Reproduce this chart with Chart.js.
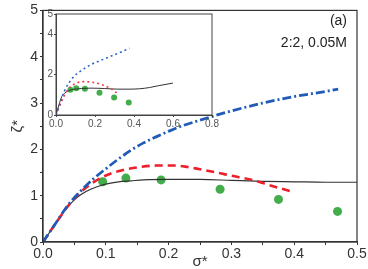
<!DOCTYPE html>
<html>
<head>
<meta charset="utf-8">
<script src="https://cdn.jsdelivr.net/npm/chart.js@4/dist/chart.umd.min.js"></script>
<style>
  html, body { margin: 0; padding: 0; background: #fff; }
  #wrap { position: relative; width: 368px; height: 269px; }
  #main { position: absolute; left: 0; top: 0; }
  #inset { position: absolute; left: 36px; top: 6px; }
</style>
</head>
<body>
<div id="wrap">
  <canvas id="main" width="368" height="269"></canvas>
  <canvas id="inset" width="190" height="124"></canvas>
</div>
<script>
// main panel: sigma* vs zeta*
const blackSigma = [0, 0.01, 0.02, 0.03, 0.04, 0.05, 0.06, 0.07, 0.08, 0.09, 0.10, 0.12, 0.14, 0.16, 0.20, 0.25, 0.30, 0.35, 0.40, 0.45, 0.50];
const blackZeta  = [0, 0.2, 0.4, 0.6, 0.77, 0.91, 1.02, 1.10, 1.16, 1.21, 1.25, 1.30, 1.32, 1.34, 1.35, 1.35, 1.33, 1.31, 1.30, 1.29, 1.29];

const redSigma = [0, 0.02, 0.04, 0.06, 0.075, 0.09, 0.11, 0.13, 0.15, 0.18, 0.21, 0.23, 0.25, 0.28, 0.30, 0.33, 0.36, 0.38, 0.40];
const redZeta  = [0, 0.4, 0.78, 1.08, 1.24, 1.37, 1.49, 1.56, 1.61, 1.65, 1.65, 1.62, 1.57, 1.49, 1.43, 1.35, 1.23, 1.15, 1.07];

const blueSigma = [0, 0.02, 0.04, 0.06, 0.08, 0.10, 0.12, 0.14, 0.16, 0.18, 0.20, 0.22, 0.25, 0.30, 0.35, 0.40, 0.45, 0.47];
const blueZeta  = [0, 0.4, 0.8, 1.1, 1.36, 1.58, 1.79, 1.98, 2.14, 2.27, 2.39, 2.50, 2.63, 2.83, 3.00, 3.14, 3.25, 3.30];

const simSigma = [0.095, 0.132, 0.188, 0.282, 0.375, 0.469];
const simZeta  = [1.30, 1.38, 1.34, 1.14, 0.92, 0.66];

// inset panel (as drawn on its own axes)
const inBlackSigma = [0, 0.015, 0.03, 0.045, 0.057, 0.075, 0.098, 0.13, 0.18, 0.25, 0.317, 0.38, 0.43, 0.48, 0.525, 0.60];
const inBlackZeta  = [0, 0.5, 0.92, 1.08, 1.17, 1.24, 1.28, 1.31, 1.33, 1.31, 1.28, 1.28, 1.30, 1.36, 1.45, 1.58];
const inBlueSigma = [0, 0.02, 0.044, 0.085, 0.126, 0.18, 0.249, 0.317, 0.376];
const inBlueZeta  = [0, 0.55, 1.2, 1.83, 2.17, 2.5, 2.78, 3.05, 3.3];
const inRedSigma = [0, 0.03, 0.06, 0.098, 0.139, 0.18, 0.235, 0.276, 0.317];
const inRedZeta  = [0, 0.7, 1.25, 1.55, 1.65, 1.63, 1.5, 1.33, 1.05];
const inSimSigma = [0.074, 0.104, 0.148, 0.223, 0.298, 0.373];
const inSimZeta  = [1.25, 1.33, 1.30, 1.10, 0.87, 0.62];

const panelLabel = '(a)';
const caseLabel = '2:2, 0.05M';

const FONT = "'Liberation Sans', Arial, sans-serif";

function pts(xs, ys) {
  return xs.map(function (x, i) { return { x: x, y: ys[i] }; });
}

function curve(xs, ys, color, width, dash) {
  return {
    data: pts(xs, ys), showLine: true, borderColor: color, borderWidth: width,
    borderDash: dash, pointRadius: 0, cubicInterpolationMode: 'monotone', fill: false
  };
}

// box around the plot area + text labels
const framePlugin = {
  id: 'frame',
  afterDraw: function (chart, args, opts) {
    const a = chart.chartArea, ctx = chart.ctx;
    ctx.save();
    ctx.strokeStyle = opts.color || '#333';
    ctx.lineWidth = opts.width || 1;
    ctx.strokeRect(a.left, a.top, a.right - a.left, a.bottom - a.top);
    if (opts.texts) {
      ctx.fillStyle = '#222';
      ctx.font = '14px ' + FONT;
      ctx.textAlign = 'right';
      ctx.textBaseline = 'middle';
      opts.texts.forEach(function (t) { ctx.fillText(t.s, t.x, t.y); });
    }
    ctx.restore();
  }
};

new Chart(document.getElementById('main'), {
  type: 'scatter',
  data: {
    datasets: [
      curve(blueSigma, blueZeta, '#1f5bb7', 2.8, [9, 3, 2, 3]),
      curve(redSigma, redZeta, '#ec1f2a', 2.6, [8, 5]),
      curve(blackSigma, blackZeta, '#333', 1.2, []),
      { data: pts(simSigma, simZeta), pointRadius: 4.5, pointBackgroundColor: '#42ad4a', pointBorderWidth: 0, showLine: false }
    ]
  },
  options: {
    responsive: false, animation: false, devicePixelRatio: 1,
    layout: { padding: { top: 6, right: 11, left: 0, bottom: 0 } },
    plugins: {
      legend: { display: false }, tooltip: { enabled: false },
      frame: { color: '#333', width: 1.2, texts: [{ s: panelLabel, x: 347, y: 21 }, { s: caseLabel, x: 347, y: 43 }] }
    },
    scales: {
      x: {
        type: 'linear', min: 0, max: 0.5,
        afterFit: function (s) { s.height = 27; },
        ticks: {
          stepSize: 0.05, autoSkip: false, maxRotation: 0, padding: 1, color: '#333',
          font: { size: 14, family: FONT },
          callback: function (v) { const k = Math.round(v * 100); return k % 10 === 0 ? (k / 100).toFixed(1) : ''; }
        },
        grid: { drawOnChartArea: false, tickLength: 3, color: '#333' },
        border: { color: '#333', width: 1.2 },
        title: { display: true, text: 'σ*', color: '#333', font: { size: 15, family: FONT, lineHeight: 1 }, padding: 0 }
      },
      y: {
        type: 'linear', min: 0, max: 5,
        afterFit: function (s) { s.width = 43; },
        ticks: {
          stepSize: 0.5, autoSkip: false, padding: 2, color: '#333',
          font: { size: 14, family: FONT },
          callback: function (v) { const k = Math.round(v * 10); return k % 10 === 0 ? String(k / 10) : ''; }
        },
        grid: { drawOnChartArea: false, tickLength: 3, color: '#333' },
        border: { color: '#333', width: 1.2 },
        title: { display: true, text: 'ζ*', color: '#333', font: { size: 15, family: FONT, lineHeight: 1 }, padding: { top: 10 } }
      }
    }
  },
  plugins: [framePlugin]
});

new Chart(document.getElementById('inset'), {
  type: 'scatter',
  data: {
    datasets: [
      curve(inBlueSigma, inBlueZeta, '#2f66c4', 1.6, [2, 3]),
      curve(inRedSigma, inRedZeta, '#f0404c', 1.6, [2, 3]),
      curve(inBlackSigma, inBlackZeta, '#333', 1, []),
      { data: pts(inSimSigma, inSimZeta), pointRadius: 3, pointBackgroundColor: '#42ad4a', pointBorderWidth: 0, showLine: false }
    ]
  },
  options: {
    responsive: false, animation: false, devicePixelRatio: 1,
    layout: { padding: { top: 8, right: 14, left: 0, bottom: 0 } },
    plugins: { legend: { display: false }, tooltip: { enabled: false }, frame: { color: '#444', width: 1 } },
    scales: {
      x: {
        type: 'linear', min: 0, max: 0.8,
        afterFit: function (s) { s.height = 15; },
        ticks: {
          stepSize: 0.2, autoSkip: false, maxRotation: 0, padding: 1, color: '#555',
          font: { size: 10, family: FONT },
          callback: function (v) { return v.toFixed(1); }
        },
        grid: { drawOnChartArea: false, tickLength: 2, color: '#444' },
        border: { color: '#444', width: 1 }
      },
      y: {
        type: 'linear', min: 0, max: 5,
        afterFit: function (s) { s.width = 20; },
        ticks: {
          stepSize: 2, autoSkip: false, padding: 1, color: '#555',
          font: { size: 10, family: FONT }
        },
        grid: { drawOnChartArea: false, tickLength: 2, color: '#444' },
        border: { color: '#444', width: 1 }
      }
    }
  },
  plugins: [framePlugin]
});
</script>
</body>
</html>
